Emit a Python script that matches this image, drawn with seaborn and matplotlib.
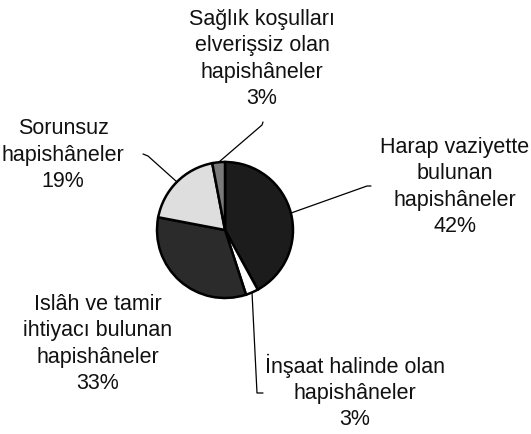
import matplotlib
matplotlib.use('Agg')
import numpy as np
import seaborn as sns
import matplotlib.pyplot as plt

# data
labels = ['Harap vaziyette\nbulunan\nhapishâneler',
          'İnşaat halinde olan\nhapishâneler',
          'Islâh ve tamir\nihtiyacı bulunan\nhapishâneler',
          'Sorunsuz\nhapishâneler',
          'Sağlık koşulları\nelverişsiz olan\nhapishâneler']
shares = [42, 3, 33, 19, 3]
colors = ['#1c1c1c', '#ffffff', '#2b2b2b', '#dedede', '#7a7a7a']

sns.set_style('white')
plt.rcParams['font.family'] = ['Liberation Sans', 'DejaVu Sans']

W, H = 531, 435
fig = plt.figure(figsize=(W/100, H/100), dpi=100)
ax = fig.add_axes([0, 0, 1, 1])

cx, cy, r = 225, H - 231, 68
wedges, _ = ax.pie(shares, colors=colors, startangle=90, counterclock=False,
                   center=(cx, cy), radius=r, frame=True,
                   wedgeprops=dict(edgecolor='black', linewidth=1.8))

ax.set_xlim(0, W)
ax.set_ylim(0, H)
ax.set_aspect('equal')
ax.axis('off')

# label text positions (pixel, from top) and leader elbow/hook points
text_pos = [(455, 187), (355, 392), (98, 344), (63, 155), (262, 59)]
leaders = [[(367, 187), (371, 187)],
           [(257, 394), (263, 394)],
           None,
           [(148, 157), (143, 155)],
           [(262, 126), (263, 123)]]

for w, lab, pct, (tx, ty), ld in zip(wedges, labels, shares, text_pos, leaders):
    ax.text(tx, H - ty, f'{lab}\n{pct}%', ha='center', va='center',
            fontsize=15.5, linespacing=1.33, color='#111111')
    if ld is None:
        continue
    ang = np.deg2rad((w.theta1 + w.theta2) / 2)
    sx, sy = cx + r * np.cos(ang), cy + r * np.sin(ang)
    xs = [sx] + [p[0] for p in ld]
    ys = [sy] + [H - p[1] for p in ld]
    ax.plot(xs, ys, color='black', lw=0.9)

fig.savefig('out.png', dpi=100)
